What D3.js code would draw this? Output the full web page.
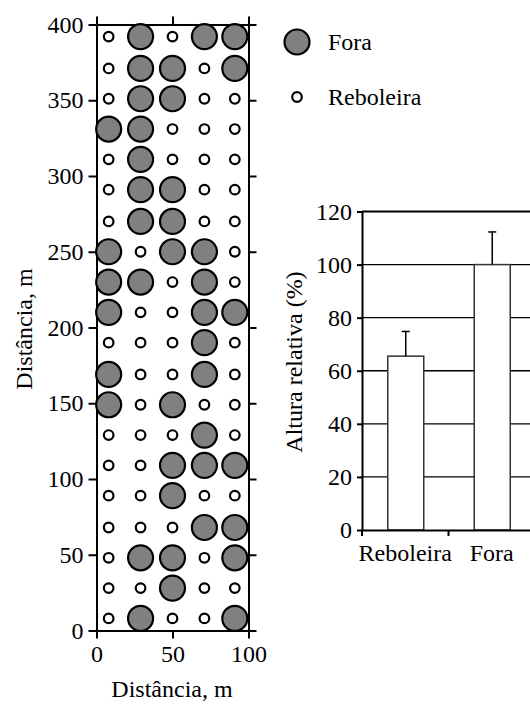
<!DOCTYPE html>
<html><head><meta charset="utf-8">
<script src="https://cdn.jsdelivr.net/npm/d3@7"></script>
<style>
html,body{margin:0;padding:0;background:#fff;}
svg{display:block;}
svg text{font-family:"Liberation Serif",Tinos,"Times New Roman",Times,"DejaVu Serif","Noto Serif",serif !important;fill:#000;}
</style></head>
<body>
<svg id="c" width="530" height="704"></svg>
<script>
// ---- Data: spatial grid (left chart) ----
const gridX = [8, 29, 50, 71, 91];            // column positions (m)
const gridY = [392, 371, 351, 331, 311, 291, 270, 250, 230, 210,
               190, 169, 149, 129, 109, 89, 68, 48, 28, 8];  // row positions (m), top→bottom
// F = Fora, R = Reboleira (rows top→bottom, columns left→right)
const gridClass = [
  "RFRFF","RFFRF","RFFRR","FFRRR","RFRRR",
  "RFFRR","RFFRR","FRFFR","FFRFR","FRRFF",
  "RRRFR","FRRFR","FRFRR","RRRFR","RRFFF",
  "RRFRR","RRRFF","RFFRF","RRFRR","RFRRF"
];
const xTicksLeft = [0, 50, 100];
const yTicksLeft = [0, 50, 100, 150, 200, 250, 300, 350, 400];
const legendLabels = ["Fora", "Reboleira"];

// ---- Data: bar chart (right) ----
const barCats = ["Reboleira", "Fora"];
const barVals = [65.5, 100];
const barErr  = [74.8, 112.3];   // top of error bar
const barYTicks = [0, 20, 40, 60, 80, 100, 120];

const SERIF = '"Liberation Serif",Tinos,"Times New Roman",Times,"DejaVu Serif","Noto Serif",serif';
const svg = d3.select("#c");
svg.append("rect").attr("width",530).attr("height",704).attr("fill","#fff");
const FS = 24;

// ===== Left chart =====
const x = d3.scaleLinear().domain([0,100]).range([96.5,248.5]);
const y = d3.scaleLinear().domain([0,400]).range([630.5,24.5]);

const L = svg.append("g");
const styleAxis = g => {
  g.attr("font-family", SERIF).attr("font-size", FS);
  g.selectAll("path.domain").attr("stroke","#000").attr("stroke-width",2);
  g.selectAll(".tick line").attr("stroke","#000").attr("stroke-width",2);
  g.selectAll("text").attr("font-family",SERIF).style("font-size",FS+"px");
};
L.append("g").attr("transform",`translate(0,${y(0)})`)
  .call(d3.axisBottom(x).tickValues(xTicksLeft).tickSize(8).tickPadding(6).tickSizeOuter(0))
  .call(styleAxis);
L.append("g").attr("transform",`translate(0,${y(400)})`)
  .call(d3.axisTop(x).tickValues(xTicksLeft).tickSize(8).tickFormat("").tickSizeOuter(0))
  .call(styleAxis);
L.append("g").attr("transform",`translate(${x(0)},0)`)
  .call(d3.axisLeft(y).tickValues(yTicksLeft).tickSize(8).tickPadding(5).tickSizeOuter(0))
  .call(styleAxis);
L.append("g").attr("transform",`translate(${x(100)},0)`)
  .call(d3.axisRight(y).tickValues(yTicksLeft).tickSize(8).tickFormat("").tickSizeOuter(0))
  .call(styleAxis);

const cells = [];
gridClass.forEach((row,i)=>{
  row.split("").forEach((c,j)=>cells.push({x:gridX[j], y:gridY[i], c}));
});
const rScale = d3.scaleOrdinal().domain(["F","R"]).range([12.5,4.8]);
const fill = d3.scaleOrdinal().domain(["F","R"]).range(["#808080","#ffffff"]);
L.selectAll("circle.pt").data(cells).join("circle")
  .attr("class","pt")
  .attr("cx",d=>x(d.x)).attr("cy",d=>y(d.y))
  .attr("r",d=>rScale(d.c))
  .attr("fill",d=>fill(d.c)).attr("stroke","#000").attr("stroke-width",2.2);

L.append("text").attr("x",172).attr("y",697).attr("text-anchor","middle")
  .attr("font-family",SERIF).style("font-size",FS+"px").text("Distância, m");
L.append("text").attr("transform","translate(32,329) rotate(-90)").attr("text-anchor","middle")
  .attr("font-family",SERIF).style("font-size",FS+"px").text("Distância, m");

// legend
const leg = svg.append("g");
const legKeys = ["F","R"];
legKeys.forEach((k,i)=>{
  const cy = i===0 ? 42 : 97;
  leg.append("circle").attr("cx",297).attr("cy",cy).attr("r",rScale(k))
    .attr("fill",fill(k)).attr("stroke","#000").attr("stroke-width",2.2);
  leg.append("text").attr("x",328).attr("y",cy+8).attr("font-family",SERIF)
    .style("font-size",FS+"px").text(legendLabels[i]);
});

// ===== Right bar chart =====
const bx = d3.scaleBand().domain(barCats).range([362,535]).paddingInner(0).paddingOuter(0);
const by = d3.scaleLinear().domain([0,120]).range([530,211.5]);
const R = svg.append("g");
R.selectAll("line.grid").data(barYTicks.filter(v=>v>0)).join("line")
  .attr("class","grid")
  .attr("x1",362).attr("x2",535)
  .attr("y1",d=>by(d)).attr("y2",d=>by(d))
  .attr("stroke","#000").attr("stroke-width",d=>d===120?2:1.3);
const bw = 36;
R.selectAll("rect.bar").data(barCats).join("rect")
  .attr("class","bar")
  .attr("x",d=>bx(d)+bx.bandwidth()/2-bw/2+0.5)
  .attr("width",bw)
  .attr("y",(d,i)=>by(barVals[i]))
  .attr("height",(d,i)=>by(0)-by(barVals[i]))
  .attr("fill","#fff").attr("stroke","#333").attr("stroke-width",1.5);
barCats.forEach((c,i)=>{
  const cx = bx(c)+bx.bandwidth()/2+0.5;
  R.append("line").attr("x1",cx).attr("x2",cx).attr("y1",by(barVals[i])).attr("y2",by(barErr[i]))
    .attr("stroke","#000").attr("stroke-width",1.5);
  R.append("line").attr("x1",cx-4).attr("x2",cx+4).attr("y1",by(barErr[i])).attr("y2",by(barErr[i]))
    .attr("stroke","#000").attr("stroke-width",1.5);
});
R.append("g").attr("transform","translate(362,0)")
  .call(d3.axisLeft(by).tickValues(barYTicks).tickSize(5).tickPadding(5).tickSizeOuter(0))
  .call(styleAxis);
const xAx = R.append("g").attr("transform",`translate(0,${by(0)})`)
  .call(d3.axisBottom(bx).tickSize(0).tickPadding(14).tickSizeOuter(0))
  .call(styleAxis);
R.selectAll("line.ctick").data(barCats).join("line").attr("class","ctick")
  .attr("x1",d=>bx(d)).attr("x2",d=>bx(d)).attr("y1",by(0)).attr("y2",by(0)+6)
  .attr("stroke","#000").attr("stroke-width",2);

R.append("text").attr("transform","translate(302,362) rotate(-90)").attr("text-anchor","middle")
  .attr("font-family",SERIF).style("font-size",FS+"px").text("Altura relativa (%)");
</script>
</body></html>
